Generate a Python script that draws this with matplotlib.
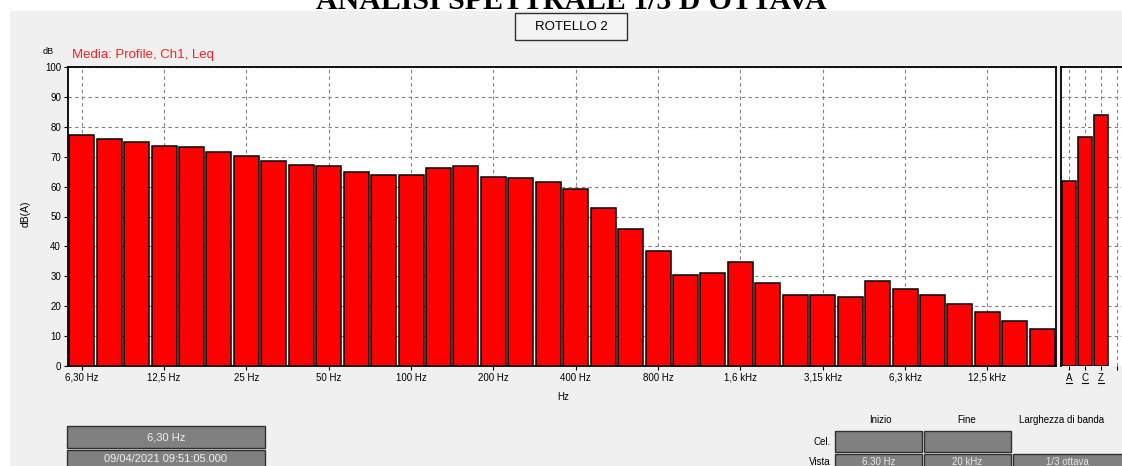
import numpy as np
import matplotlib
matplotlib.use("Agg")
import matplotlib.pyplot as plt
from matplotlib.patches import Rectangle
from matplotlib.transforms import blended_transform_factory

plt.rcParams['font.family'] = ['Liberation Sans', 'DejaVu Sans']

# 1/3 octave bands, 6.3 Hz .. 20 kHz
bands = ['6,30 Hz', '8 Hz', '10 Hz', '12,5 Hz', '16 Hz', '20 Hz', '25 Hz', '31,5 Hz', '40 Hz',
         '50 Hz', '63 Hz', '80 Hz', '100 Hz', '125 Hz', '160 Hz', '200 Hz', '250 Hz', '315 Hz',
         '400 Hz', '500 Hz', '630 Hz', '800 Hz', '1 kHz', '1,25 kHz', '1,6 kHz', '2 kHz',
         '2,5 kHz', '3,15 kHz', '4 kHz', '5 kHz', '6,3 kHz', '8 kHz', '10 kHz', '12,5 kHz',
         '16 kHz', '20 kHz']
leq = [77.4, 75.8, 74.9, 73.7, 73.3, 71.6, 70.4, 68.6, 67.3,
       66.9, 64.8, 63.9, 63.9, 66.2, 66.9, 63.3, 62.8, 61.6,
       59.3, 52.9, 45.7, 38.6, 30.5, 31.1, 34.8, 27.8, 23.9,
       23.9, 23.0, 28.3, 25.6, 23.9, 20.7, 18.2, 15.1, 12.5]
tick_every = 3

total_labels = ['A', 'C', 'Z']
total_values = [62.0, 76.6, 83.8]

W, H = 1122, 466
fig = plt.figure(figsize=(W / 100, H / 100), dpi=100)
fig.patch.set_facecolor('#f0f0f0')


def box(x0, y0, x1, y1):
    return [x0 / W, 1 - y1 / H, (x1 - x0) / W, (y1 - y0) / H]


def ftext(x, y, s, **kw):
    return fig.text(x / W, 1 - y / H, s, **kw)


# white band at top and left
fig.patches.append(Rectangle((0, 1 - 11 / H), 1, 11 / H, transform=fig.transFigure,
                             facecolor='white', edgecolor='none', zorder=0))
fig.patches.append(Rectangle((0, 0), 10 / W, 1, transform=fig.transFigure,
                             facecolor='white', edgecolor='none', zorder=0))

# title, mostly cut by the top edge
ftext(571, 9, "ANALISI SPETTRALE 1/3 D'OTTAVA", family='Liberation Serif',
      fontweight='bold', fontsize=21.5, ha='center', va='baseline')

# ROTELLO 2 button
fig.patches.append(Rectangle((515 / W, 1 - 40 / H), 112 / W, 27 / H, transform=fig.transFigure,
                             facecolor='#f4f4f4', edgecolor='#303030', linewidth=1.0, zorder=1))
ftext(571, 27, 'ROTELLO 2', fontsize=9.5, ha='center', va='center')

# main spectrum
ax = fig.add_axes(box(68, 67, 1056, 366))
x = np.arange(len(leq))
ax.bar(x, leq, width=0.91, color='#ff0000', edgecolor='black', linewidth=1.1, zorder=3)
ax.set_xlim(-0.5, len(leq) - 0.5)
ax.set_ylim(0, 100)
ax.set_yticks(np.arange(0, 101, 10))
ax.set_xticks(x[::tick_every])
ax.set_xticklabels(bands[::tick_every])
ax.tick_params(axis='both', labelsize=7, length=3, width=0.8, colors='black', pad=2)
ax.grid(True, color='#808080', linestyle=(0, (3, 3)), linewidth=0.8, zorder=0)
ax.set_facecolor('white')
for s in ax.spines.values():
    s.set_linewidth(1.3)
ax.set_ylabel('dB(A)', fontsize=7.5)
ax.yaxis.set_label_coords(-0.038, 0.51)

# overall levels panel
ax2 = fig.add_axes(box(1061, 67, 1141, 366))
x2 = np.arange(len(total_values))
ax2.bar(x2, total_values, width=0.93, color='#ff0000', edgecolor='black', linewidth=1.1, zorder=3)
ax2.set_xlim(-0.5, 4.5)
ax2.set_ylim(0, 100)
ax2.set_xticks(np.arange(4))
ax2.set_xticklabels(total_labels + [''])
ax2.set_yticks(np.arange(0, 101, 10))
ax2.set_yticklabels([])
ax2.tick_params(axis='both', labelsize=7, length=3, width=0.8, pad=2)
ax2.tick_params(axis='y', length=0)
ax2.grid(True, color='#808080', linestyle=(0, (3, 3)), linewidth=0.8, zorder=0)
ax2.set_facecolor('white')
for s in ax2.spines.values():
    s.set_linewidth(1.3)
ax2.spines['bottom'].set_visible(False)
# underline the A / C / Z labels
tr = blended_transform_factory(ax2.transData, ax2.transAxes)
for i in x2:
    ax2.plot([i - 0.2, i + 0.2], [-0.058, -0.058], color='black', linewidth=0.8,
             transform=tr, clip_on=False)

# axis captions
ftext(48, 52, 'dB', fontsize=6.5, ha='center', va='center')
ftext(72, 55, 'Media: Profile, Ch1, Leq', fontsize=9.5, color='#ff2020', ha='left', va='center')
ftext(563, 397, 'Hz', fontsize=7, ha='center', va='center')

# cursor boxes bottom left
for (y0, y1, s) in [(426, 448, '6,30 Hz'), (450, 472, '09/04/2021 09:51:05.000')]:
    fig.patches.append(Rectangle((67 / W, 1 - y1 / H), 198 / W, (y1 - y0) / H,
                                 transform=fig.transFigure, facecolor='#808080',
                                 edgecolor='#303030', linewidth=1.0, zorder=1))
    ftext(166, (y0 + y1) / 2 + 0.5 if y1 < 466 else 459, s, fontsize=8, color='#f0f0f0',
          ha='center', va='center')

# bottom right table
ftext(880, 420, 'Inizio', fontsize=7, ha='center', va='center')
ftext(967, 420, 'Fine', fontsize=7, ha='center', va='center')
ftext(1019, 420, 'Larghezza di banda', fontsize=7, ha='left', va='center')
ftext(831, 442, 'Cel.', fontsize=7, ha='right', va='center')
ftext(831, 462, 'Vista', fontsize=7, ha='right', va='center')
cells = [(835, 922, 431, 452, ''), (924, 1011, 431, 452, ''),
         (835, 922, 454, 476, '6,30 Hz'), (924, 1011, 454, 476, '20 kHz'),
         (1013, 1135, 454, 476, '1/3 ottava')]
for (x0, x1, y0, y1, s) in cells:
    fig.patches.append(Rectangle((x0 / W, 1 - y1 / H), (x1 - x0) / W, (y1 - y0) / H,
                                 transform=fig.transFigure, facecolor='#808080',
                                 edgecolor='#303030', linewidth=1.0, zorder=1))
    if s:
        ftext((x0 + min(x1, 1122)) / 2, 462, s, fontsize=7, color='#e8e8e8', ha='center', va='center')

fig.savefig('out.png', dpi=100, facecolor=fig.get_facecolor())
